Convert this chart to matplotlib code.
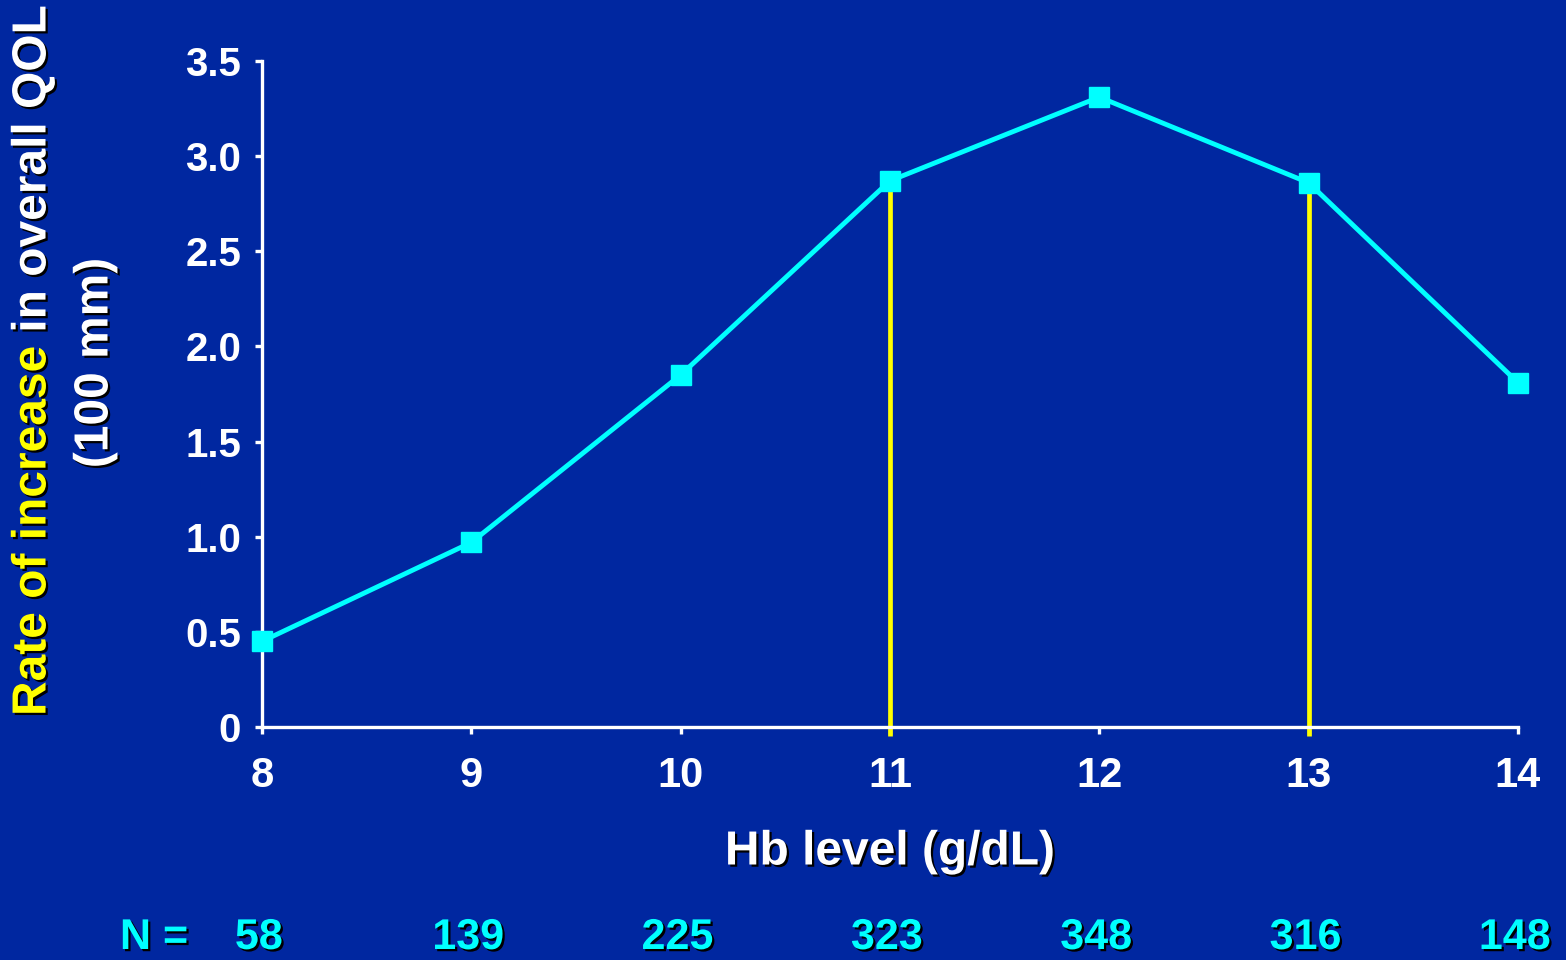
import matplotlib
matplotlib.use("Agg")
import matplotlib.pyplot as plt
import matplotlib.patheffects as pe
from matplotlib.transforms import blended_transform_factory

# Hb level vs rate of increase in overall QOL
hb_level = [8, 9, 10, 11, 12, 13, 14]
qol_rate = [0.45, 0.97, 1.85, 2.87, 3.31, 2.86, 1.81]
n_patients = [58, 139, 225, 323, 348, 316, 148]
target_range = [11, 13]

BG = "#0027A0"
CYAN = "#00FFFF"
YELLOW = "#FFFF00"
WHITE = "#FFFFFF"

plt.rcParams["font.family"] = ["Liberation Sans", "DejaVu Sans"]
plt.rcParams["font.weight"] = "bold"

shadow = [pe.withSimplePatchShadow(offset=(1.6, -1.6), shadow_rgbFace="black", alpha=1.0)]

fig = plt.figure(figsize=(15.66, 9.6), dpi=100, facecolor=BG)
ax = fig.add_axes([0.1673, 0.2427, 0.802, 0.6938])
ax.set_facecolor(BG)

# target band markers
target_vals = [qol_rate[hb_level.index(x)] for x in target_range]
ax.vlines(target_range, -0.045, target_vals, colors=YELLOW, lw=3.4, clip_on=False, zorder=2)

ax.plot(hb_level, qol_rate, color=CYAN, lw=3.5, marker="s", ms=15,
        mec=CYAN, mfc=CYAN, clip_on=False, zorder=3)

ax.set_xlim(8, 14)
ax.set_ylim(0, 3.5)
ax.set_xticks(hb_level)
ax.set_xticklabels([str(x) for x in hb_level])
ax.set_yticks([0, 0.5, 1.0, 1.5, 2.0, 2.5, 3.0, 3.5])
ax.set_yticklabels(["0", "0.5", "1.0", "1.5", "2.0", "2.5", "3.0", "3.5"])

for side in ["top", "right"]:
    ax.spines[side].set_visible(False)
for side in ["left", "bottom"]:
    ax.spines[side].set_color(WHITE)
    ax.spines[side].set_linewidth(2.4)

ax.tick_params(axis="both", colors=WHITE, width=2.4, length=5)
ax.tick_params(axis="x", pad=16, labelsize=30)
ax.tick_params(axis="y", pad=10, labelsize=29)
for lab in ax.get_xticklabels() + ax.get_yticklabels():
    lab.set_fontweight("bold")

ax.set_xlabel("Hb level (g/dL)", color=WHITE, fontsize=34.5, fontweight="bold",
              labelpad=24, path_effects=shadow)

# y label, first line in two colours
fig.canvas.draw()
r = fig.canvas.get_renderer()
t1 = fig.text(33 / 1566, 1 - 716 / 960, "Rate of increase", rotation=90, ha="center", va="bottom",
              color=YELLOW, fontsize=34.5, fontweight="bold", path_effects=shadow)
fig.canvas.draw()
bb = t1.get_window_extent(r)
top = fig.transFigure.inverted().transform((bb.x1, bb.y1))[1]
fig.text(33 / 1566, top, " in overall QOL", rotation=90, ha="center", va="bottom",
         color=WHITE, fontsize=34.5, fontweight="bold", path_effects=shadow)
fig.text(95 / 1566, 1 - 363 / 960, "(100 mm)", rotation=90, ha="center", va="center",
         color=WHITE, fontsize=34.5, fontweight="bold", path_effects=shadow)

# patient counts under each Hb level
trans = blended_transform_factory(ax.transData, fig.transFigure)
for x, n in zip(hb_level, n_patients):
    ax.text(x - 0.015, 1 - 938 / 960, str(n), transform=trans, ha="center", va="center",
            color=CYAN, fontsize=31, fontweight="bold",
            path_effects=shadow, clip_on=False)
fig.text(154 / 1566, 1 - 938 / 960, "N =", ha="center", va="center",
         color=CYAN, fontsize=31, fontweight="bold", path_effects=shadow)

fig.savefig("out.png", dpi=100, facecolor=BG)
